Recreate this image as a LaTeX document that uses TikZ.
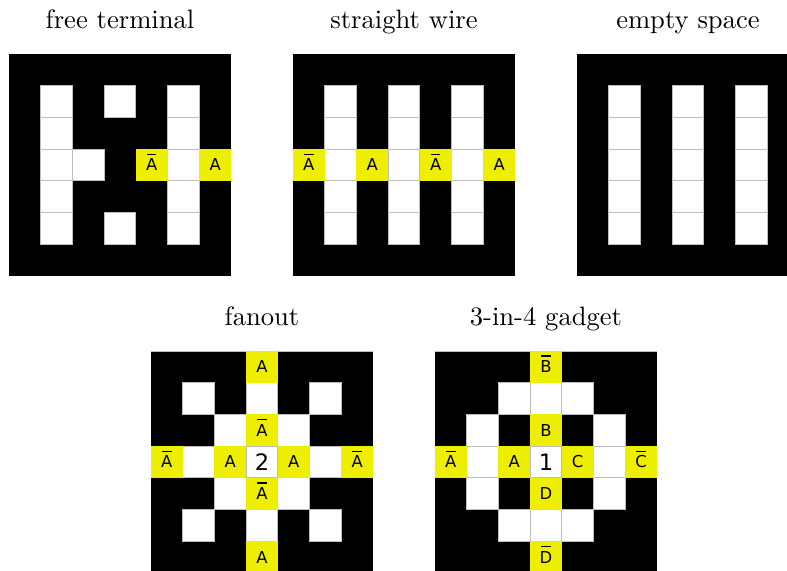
\documentclass[tikz,border=0pt]{standalone}
\usepackage{fontspec}
\usepackage{xcolor}
\newfontfamily\cellfont{DejaVu Sans}
\definecolor{wirefill}{HTML}{EEEE00}
\definecolor{gridgray}{HTML}{BEBEBE}
\tikzstyle{panel} = [rectangle, fill=black, minimum size=6.66cm, inner sep=0pt, outer sep=0pt]
\tikzstyle{title} = [text height=1.6ex, text depth=.5ex, scale=2.27, inner sep=0pt, node distance=1.884cm]
\tikzstyle{opencell} = [rectangle, draw=gridgray, line width=.7pt, fill=white, minimum size=.9514cm, %
inner sep=0pt, outer sep=0pt, font=\cellfont\fontsize{19.3}{20}\selectfont]
\tikzstyle{wirecell} = [rectangle, fill=wirefill, minimum size=.9514cm, inner sep=0pt, outer sep=0pt, %
text height=10.2pt, text depth=0pt, font=\cellfont\fontsize{14}{15}\selectfont]
\tikzstyle{edgeline} = [draw=gridgray, line width=.7pt]
\tikzstyle{cellgrid} = [x=.9514cm, y=-.9514cm]
% a letter with a bar over it
\newcommand{\barred}[1]{\setbox0=\hbox{#1}\rlap{\hbox to \wd0{\hss\raisebox{.98em}{\rule{.57em}{.08em}}\hss}}\box0}
% white cells of one panel, then the labelled yellow ones
\newcommand{\opencells}[2]{\foreach \c/\r in {#2} {\node[opencell] (#1-\c-\r) at (\c,\r) {};}}
\newcommand{\wirecells}[2]{\foreach \c/\r/\t in {#2} {\node[wirecell] (#1-\c-\r) at (\c,\r) {\t};}}

\begin{document}
\begin{tikzpicture}
    \clip (0,0) rectangle (23.61,-17.13);
    % top row
    \begin{scope}[shift={(.745cm,-2.095cm)}, cellgrid]
        \node[panel] (terminal) at (3,3) {};
        \node[title, above of=terminal] (terminaltitle) {free terminal};
        \opencells{ft}{1/1,1/2,1/3,1/4,1/5,2/3,3/1,3/5,5/1,5/2,5/3,5/4,5/5}
        \wirecells{fw}{4/3/\barred{A},6/3/A}
    \end{scope}
    \begin{scope}[shift={(9.265cm,-2.095cm)}, cellgrid]
        \node[panel] (wire) at (3,3) {};
        \node[title, above of=wire] (wiretitle) {straight wire};
        \opencells{sw}{1/1,1/2,1/3,1/4,1/5,3/1,3/2,3/3,3/4,3/5,5/1,5/2,5/3,5/4,5/5}
        \wirecells{sy}{0/3/\barred{A},2/3/A,4/3/\barred{A},6/3/A}
    \end{scope}
    \begin{scope}[shift={(17.785cm,-2.095cm)}, cellgrid]
        \node[panel] (empty) at (3,3) {};
        \node[title, above of=empty] (emptytitle) {empty space};
        \opencells{es}{1/1,1/2,1/3,1/4,1/5,3/1,3/2,3/3,3/4,3/5,5/1,5/2,5/3,5/4,5/5}
    \end{scope}
    % bottom row
    \begin{scope}[shift={(5.005cm,-11.006cm)}, cellgrid]
        \node[panel] (fanout) at (3,3) {};
        \node[title, above of=fanout] (fanouttitle) {fanout};
        \draw[edgeline] (fanout.north west) -- (fanout.north east);
        \opencells{fo}{1/1,3/1,5/1,2/2,4/2,1/3,5/3,2/4,4/4,1/5,3/5,5/5}
        \node[opencell] (fo-3-3) at (3,3) {2};
        \wirecells{fy}{3/0/A,3/2/\barred{A},0/3/\barred{A},2/3/A,4/3/A,6/3/\barred{A},3/4/\barred{A},3/6/A}
    \end{scope}
    \begin{scope}[shift={(13.525cm,-11.006cm)}, cellgrid]
        \node[panel] (gadget) at (3,3) {};
        \node[title, above of=gadget] (gadgettitle) {3-in-4 gadget};
        \draw[edgeline] (gadget.north west) -- (gadget.north east);
        \opencells{ga}{2/1,3/1,4/1,1/2,5/2,1/3,5/3,1/4,5/4,2/5,3/5,4/5}
        \node[opencell] (ga-3-3) at (3,3) {1};
        \wirecells{gy}{3/0/\barred{B},3/2/B,0/3/\barred{A},2/3/A,4/3/C,6/3/\barred{C},3/4/D,3/6/\barred{D}}
    \end{scope}
\end{tikzpicture}
\end{document}
